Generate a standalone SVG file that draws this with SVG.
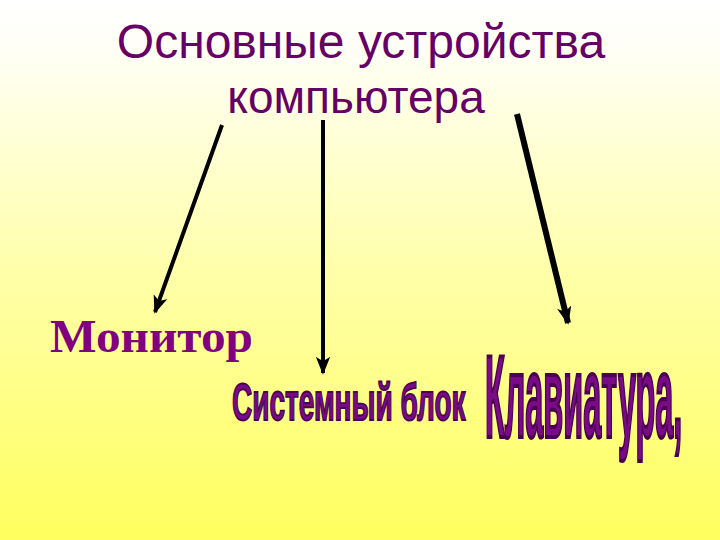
<svg xmlns="http://www.w3.org/2000/svg" width="720" height="540" viewBox="0 0 720 540">
<defs>
<linearGradient id="bg" x1="0" y1="0" x2="0" y2="1">
<stop offset="0" stop-color="#FFFFFF"/>
<stop offset="0.09" stop-color="#FFFFF6"/>
<stop offset="0.5" stop-color="#FFFFAA"/>
<stop offset="1" stop-color="#FFFF5E"/>
</linearGradient>
<marker id="ah" viewBox="0 0 20 16" refX="18" refY="8" markerWidth="18" markerHeight="15" markerUnits="userSpaceOnUse" orient="auto">
<path d="M0,0 L20,8 L0,16 L5,8 Z" fill="#000"/>
</marker>
<style>
.title{font-family:"Liberation Sans",Arial,sans-serif;fill:#660066;text-anchor:middle}
.conn{stroke:#000;fill:none;marker-end:url(#ah)}
.mon{font-family:"Liberation Serif","Times New Roman",serif;font-weight:bold;font-size:46px;fill:#800080}
.cond{font-family:"Liberation Sans Narrow","Liberation Sans",Arial,sans-serif;font-weight:bold;fill:#7A0A88;stroke:#4A0050;vector-effect:non-scaling-stroke}
</style>
</defs>
<rect x="0" y="0" width="720" height="540" fill="url(#bg)"/>
<g id="title">
<text class="title" x="361" y="58" font-size="48">Основные устройства</text>
<text class="title" x="356" y="113" font-size="46">компьютера</text>
</g>
<g id="connectors">
<line class="conn" x1="222" y1="125" x2="155" y2="312" stroke-width="4"/>
<line class="conn" x1="323" y1="120" x2="323" y2="373" stroke-width="4"/>
<line class="conn" x1="517" y1="114" x2="568" y2="323" stroke-width="6"/>
</g>
<g id="monitor">
<text class="mon" x="50" y="352" textLength="203" lengthAdjust="spacingAndGlyphs">Монитор</text>
</g>
<g id="sysblock">
<text class="cond" transform="translate(232,420) scale(1,1.85)" font-size="28" stroke-width="1.5">Системный блок</text>
</g>
<g id="keyboard">
<text class="cond" transform="translate(485,437) scale(0.81,2.93)" font-size="40" stroke-width="3">Клавиатура,</text>
</g>
</svg>
